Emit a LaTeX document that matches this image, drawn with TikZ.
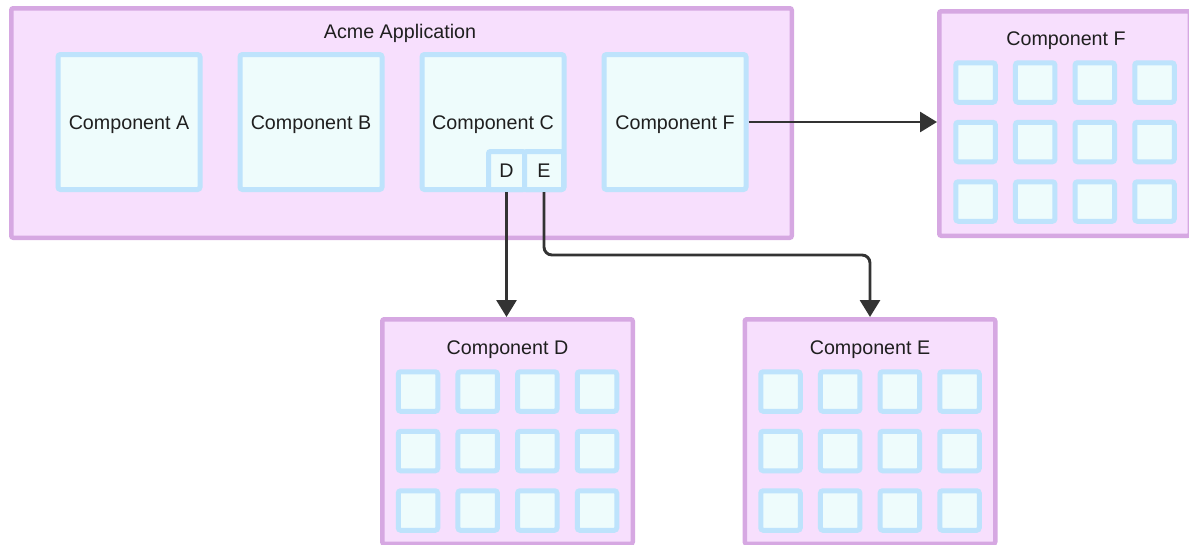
\documentclass[tikz,border=0pt]{standalone}
\usepackage{fontspec}
\setmainfont{Liberation Sans}
\usetikzlibrary{arrows.meta}
\definecolor{pborder}{HTML}{D6A8E2}
\definecolor{pfill}{HTML}{F7DFFD}
\definecolor{bborder}{HTML}{BEE3FC}
\definecolor{bfill}{HTML}{EEFCFC}
\definecolor{arr}{HTML}{333333}
\definecolor{txt}{HTML}{1F1F1F}
\begin{document}
\begin{tikzpicture}[x=1pt,y=-1pt,
  lbl/.style={font=\fontsize{19.7}{23}\selectfont, text=txt, inner sep=0pt, text height=14pt, text depth=0pt},
  group/.style={draw=pborder, fill=pfill, line width=4.5pt, rounded corners=2pt, inner sep=0pt},
  comp/.style={draw=bborder, fill=bfill, line width=5pt, rounded corners=2.5pt, inner sep=0pt,
    minimum width=142pt, minimum height=135pt, lbl},
  sub/.style={draw=bborder, fill=bfill, line width=5pt, rounded corners=2pt, inner sep=0pt,
    minimum height=38pt, lbl},
  cell/.style={draw=bborder, fill=bfill, line width=5pt, rounded corners=2.5pt, inner sep=0pt,
    minimum size=39.5pt},
  conn/.style={draw=arr, line width=2.9pt, -{Triangle[length=17pt,width=20pt]}, rounded corners=8pt}
]
\useasboundingbox (0,0) rectangle (1189,544);

% Acme application
\node[group, minimum width=780.5pt, minimum height=229.5pt] (acme) at (401.5,123) {};
\node[lbl] (acmet) at (400,31.5) {Acme Application};
\node[comp] (compA) at (129,122) {Component A};
\node[comp] (compB) at (311,122) {Component B};
\node[comp] (compC) at (493,122) {Component C};
\node[comp] (compFi) at (675,122) {Component F};
\node[sub, minimum width=36pt] (subD) at (506.5,170.5) {D};
\node[sub, minimum width=39pt] (subE) at (544,170.5) {E};

% Big component boxes
\node[group, minimum width=250.5pt, minimum height=224.5pt] (boxD) at (507.5,431.5) {};
\node[lbl] (boxDt) at (507.5,347) {Component D};
\node[group, minimum width=250.5pt, minimum height=224.5pt] (boxE) at (870,431.5) {};
\node[lbl] (boxEt) at (870,347) {Component E};
\node[group, minimum width=250.5pt, minimum height=224.5pt] (boxF) at (1064.5,123.5) {};
\node[lbl] (boxFt) at (1066,38.5) {Component F};

\foreach \nm/\cx/\ty in {D/507.5/317, E/870/317, F/1065/8}{
  \foreach \dx [count=\i] in {-89.5,-29.8,29.8,89.5}{
    \foreach \dy [count=\j] in {74.5,134,193.5}{
      \node[cell] (\nm cell\i\j) at (\cx+\dx,\ty+\dy) {};
    }
  }
}

% connectors
\coordinate (eturn) at (870,255);
\draw[conn] (subD.south) -- (subD.south |- boxD.north);
\draw[conn] (subE.south) |- (eturn) -- (boxE.north);
\draw[conn] (compFi.east) -- (compFi.east -| boxF.west);
\end{tikzpicture}
\end{document}
